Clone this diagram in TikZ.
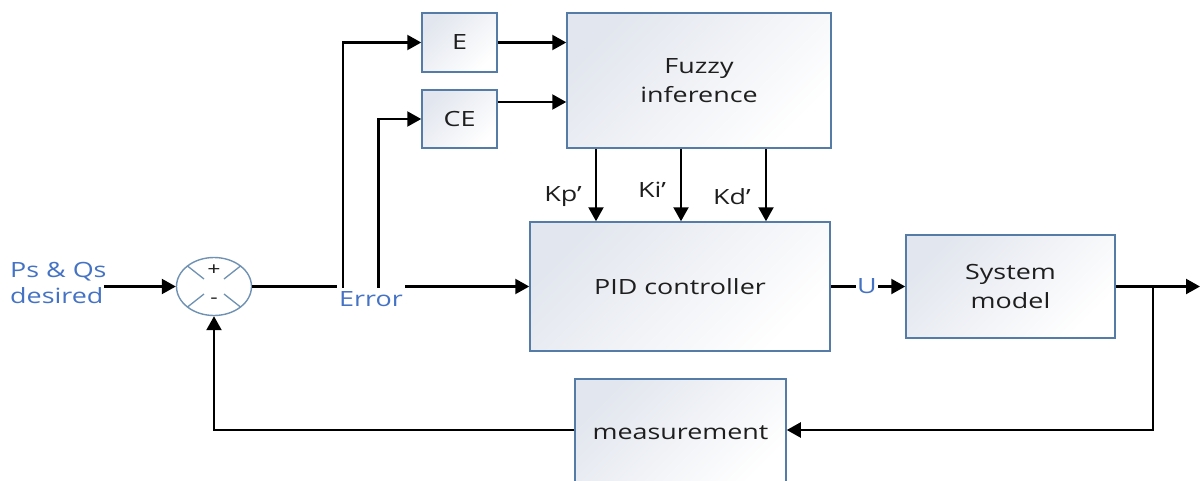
\documentclass[tikz,border=0pt]{standalone}
\usepackage{fontspec}
\setmainfont[FakeStretch=1.28]{Open Sans}
\usetikzlibrary{arrows.meta,calc,shapes.geometric}
\definecolor{boxedge}{RGB}{84,124,166}
\definecolor{sumedge}{RGB}{110,145,180}
\definecolor{boxshade}{RGB}{226,230,238}
\definecolor{txt}{RGB}{30,30,30}
\definecolor{lbl}{RGB}{68,114,196}
\tikzset{
  blk/.style={draw=boxedge, line width=1.5pt, rectangle, top color=boxshade, bottom color=white, shading angle=45, text=txt, align=center, font=\fontsize{21}{29}\selectfont, inner sep=0pt},
  arr/.style={line width=2.2pt, -{Triangle[length=14pt,width=15pt]}},
  bluelbl/.style={text=lbl, font=\fontsize{21}{26}\selectfont, align=left, inner sep=1pt},
  klbl/.style={text=txt, font=\fontsize{21}{26}\selectfont, inner sep=0pt}
}
\begin{document}
\begin{tikzpicture}[x=1pt,y=-1pt]
\clip (0,0) rectangle (1200,480);
\fill[white] (0,0) rectangle (1200,480);
% blocks
\node[blk, minimum width=75pt, minimum height=59pt] (E) at (459.5,42.5) {E};
\node[blk, minimum width=75pt, minimum height=58pt] (CE) at (459.5,119) {CE};
\node[blk, minimum width=264pt, minimum height=135pt] (fuzzy) at (699,80.5) {Fuzzy\\inference};
\node[blk, minimum width=300pt, minimum height=129pt] (PID) at (680,286.5) {PID controller};
\node[blk, minimum width=209pt, minimum height=103pt] (sys) at (1010.5,286.5) {System\\model};
\node[blk, minimum width=211pt, minimum height=112pt] (meas) at (680.5,435) {\raisebox{4pt}{measurement}};
% summing junction
\node[ellipse, draw=sumedge, line width=1.4pt, minimum width=75pt, minimum height=58pt, inner sep=0pt] (sum) at (214,286.5) {};
\draw[sumedge, line width=1.3pt] (187.5,266) -- (204,279) (240.5,266) -- (224,279)
  (187.5,307) -- (204,294) (240.5,307) -- (224,294);
\node[text=txt, font=\fontsize{18}{20}\selectfont, inner sep=0pt] (plus) at (214,270) {+};
\node[text=txt, font=\fontsize{18}{20}\selectfont, inner sep=0pt] (minus) at (214,301) {-};
% input
\node[bluelbl, anchor=west] (inp) at (9,283) {Ps \& Qs\\desired};
\draw[arr] ([xshift=-4pt]inp.east |- sum.west) -- (sum.west);
% forward path
\draw[arr] (sum.east) -- (PID.west);
\node[bluelbl, fill=white, inner xsep=2pt, inner ysep=6pt] (err) at (371,299) {Error};
\coordinate (b1) at (343,287.5);
\coordinate (b2) at (378.5,287.5);
\draw[arr] (b1) |- (E.west);
\draw[arr] (b2) |- (CE.west);
\draw[arr] (E.east) -- (E.east -| fuzzy.west);
\draw[arr] ([yshift=17pt]CE.east) -- ([yshift=17pt]CE.east -| fuzzy.west);
% gains
\draw[arr] ([xshift=-103pt]fuzzy.south) -- ([xshift=-103pt]fuzzy.south |- PID.north);
\draw[arr] ([xshift=-18pt]fuzzy.south) -- ([xshift=-18pt]fuzzy.south |- PID.north);
\draw[arr] ([xshift=67pt]fuzzy.south) -- ([xshift=67pt]fuzzy.south |- PID.north);
\node[klbl] (kp) at (563,197) {Kp’};
\node[klbl] (ki) at (652,190) {Ki’};
\node[klbl] (kd) at (732,197) {Kd’};
% PID to system
\draw[arr] (PID.east) -- (sys.west);
\node[bluelbl, fill=white, inner sep=1pt] (U) at (867,286.5) {U};
% output and feedback
\coordinate (out) at (1200,286.5);
\coordinate (br) at (1153,286.5);
\coordinate (fb) at (1153,430);
\draw[arr] (sys.east) -- (out);
\draw[arr] (br) -- (fb) -- (fb -| meas.east);
\draw[arr] (fb -| meas.west) -| (sum.south);
\end{tikzpicture}
\end{document}
